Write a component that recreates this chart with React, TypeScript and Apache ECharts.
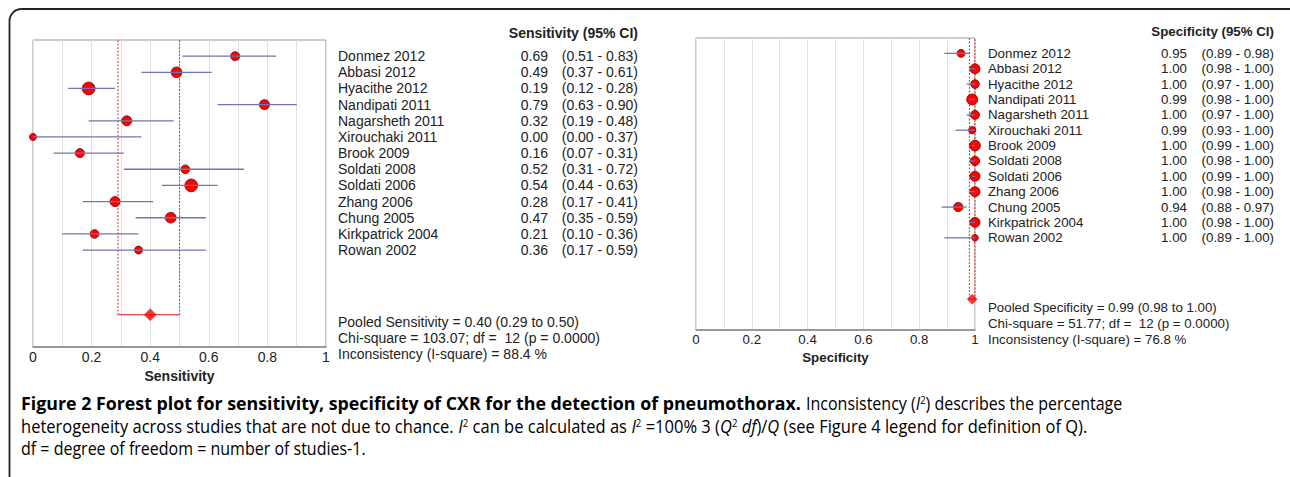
import React, { useEffect, useRef } from "react";
import * as echarts from "echarts";

const studies = [
  "Donmez 2012", "Abbasi 2012", "Hyacithe 2012", "Nandipati 2011", "Nagarsheth 2011",
  "Xirouchaki 2011", "Brook 2009", "Soldati 2008", "Soldati 2006", "Zhang 2006",
  "Chung 2005", "Kirkpatrick 2004", "Rowan 2002",
];
const sensEst = [0.69, 0.49, 0.19, 0.79, 0.32, 0.0, 0.16, 0.52, 0.54, 0.28, 0.47, 0.21, 0.36];
const sensLo = [0.51, 0.37, 0.12, 0.63, 0.19, 0.0, 0.07, 0.31, 0.44, 0.17, 0.35, 0.1, 0.17];
const sensHi = [0.83, 0.61, 0.28, 0.9, 0.48, 0.37, 0.31, 0.72, 0.63, 0.41, 0.59, 0.36, 0.59];
const sensWeight = [9, 10.7, 12.7, 10, 10, 7, 9, 8.7, 12.7, 10, 10.7, 8.7, 8];
const sensPooled = [0.4, 0.29, 0.5];
const sensStats = [
  "Pooled Sensitivity = 0.40 (0.29 to 0.50)",
  "Chi-square = 103.07; df =  12 (p = 0.0000)",
  "Inconsistency (I-square) = 88.4 %",
];

const specEst = [0.95, 1.0, 1.0, 0.99, 1.0, 0.99, 1.0, 1.0, 1.0, 1.0, 0.94, 1.0, 1.0];
const specLo = [0.89, 0.98, 0.97, 0.98, 0.97, 0.93, 0.99, 0.98, 0.99, 0.98, 0.88, 0.98, 0.89];
const specHi = [0.98, 1.0, 1.0, 1.0, 1.0, 1.0, 1.0, 1.0, 1.0, 1.0, 0.97, 1.0, 1.0];
const specWeight = [8, 10, 8.7, 11, 9, 7.3, 10.7, 9.3, 10, 10, 9.3, 10, 6.7];
const specPooled = [0.99, 0.98, 1.0];
const specStats = [
  "Pooled Specificity = 0.99 (0.98 to 1.00)",
  "Chi-square = 51.77; df =  12 (p = 0.0000)",
  "Inconsistency (I-square) = 76.8 %",
];

const xTicks = [0, 0.2, 0.4, 0.6, 0.8, 1];
const pooledRow = 16;
const rowMin = -1;
const rowMax = 18;

const capTitle = "Figure 2 Forest plot for sensitivity, specificity of CXR for the detection of pneumothorax.";
const capLine1: [string, string][] = [
  ["r", "Inconsistency ("], ["i", "I"], ["s", "2"], ["r", ") describes the percentage"],
];
const capLine2: [string, string][] = [
  ["r", "heterogeneity across studies that are not due to chance. "], ["i", "I"], ["s", "2"],
  ["r", " can be calculated as "], ["i", "I"], ["s", "2"], ["r", " =100% 3 ("], ["i", "Q"], ["s", "2"],
  ["i", " df"], ["r", ")/"], ["i", "Q"], ["r", " (see Figure 4 legend for definition of Q)."],
];
const capLine3: [string, string][] = [["r", "df = degree of freedom = number of studies-1."]];

const FONT = "'Liberation Sans', Arial, sans-serif";
const CAP_FONT = "'Open Sans', sans-serif";

const grids = [
  { left: 33, top: 40, width: 293, height: 307 },
  { left: 696, top: 38, width: 279, height: 292 },
];
const fontSizes = [14, 13.3];

function rowY(g: { top: number; height: number }, i: number) {
  return g.top + ((i - rowMin) / (rowMax - rowMin)) * g.height;
}

const fmt = (v: number) => v.toFixed(2);

function ciSeries(idx: number, lo: number[], hi: number[]) {
  return {
    type: "custom",
    xAxisIndex: idx,
    yAxisIndex: idx,
    clip: true,
    z: 5,
    data: lo.map((l, i) => [l, hi[i], i]),
    encode: { x: [0, 1], y: 2 },
    renderItem: (params: any, api: any) => {
      const a = api.coord([api.value(0), api.value(2)]);
      const b = api.coord([api.value(1), api.value(2)]);
      return {
        type: "line",
        shape: { x1: a[0], y1: a[1], x2: b[0], y2: b[1] },
        style: { stroke: "#7474b0", lineWidth: 1.3 },
      };
    },
  };
}

function pooledLines(idx: number, pooled: number[]) {
  return {
    type: "custom",
    xAxisIndex: idx,
    yAxisIndex: idx,
    clip: false,
    z: 2,
    itemStyle: { color: "#f03a3a" },
    data: [[pooled[1], pooled[2], pooledRow]],
    encode: { x: [0, 1], y: 2 },
    renderItem: (params: any, api: any) => {
      const lo = api.value(0);
      const hi = api.value(1);
      const row = api.value(2);
      const p1 = api.coord([lo, rowMin]);
      const p2 = api.coord([lo, row]);
      const p3 = api.coord([hi, row]);
      const p4 = api.coord([hi, rowMin]);
      return {
        type: "group",
        children: [
          {
            type: "polyline",
            shape: { points: [p1, p2, p3, p4] },
            style: { stroke: "#f03a3a", fill: null, lineWidth: 1.1, lineDash: [2, 1.5] },
          },
          {
            type: "polyline",
            shape: { points: [p2, p3] },
            style: { stroke: "#e8383d", fill: null, lineWidth: 1 },
          },
        ],
      };
    },
  };
}

function pointSeries(idx: number, est: number[], w: number[]) {
  return {
    type: "scatter",
    xAxisIndex: idx,
    yAxisIndex: idx,
    clip: false,
    z: 3,
    data: est.map((v, i) => [v, i, w[i]]),
    symbolSize: (d: number[]) => d[2],
    itemStyle: { color: "#ff0000", borderColor: "#7a0000", borderWidth: 0.8, opacity: 1 },
  };
}

function diamondSeries(idx: number, pooled: number[], size: number) {
  return {
    type: "scatter",
    xAxisIndex: idx,
    yAxisIndex: idx,
    clip: false,
    z: 4,
    symbol: "diamond",
    symbolSize: [size, size],
    data: [[pooled[0], pooledRow]],
    itemStyle: { color: "#ff0000", borderColor: "#cc0000", borderWidth: 0.5 },
  };
}

function xAxis(idx: number, name: string, nameGap: number) {
  return {
    type: "value",
    gridIndex: idx,
    min: 0,
    max: 1,
    interval: 0.1,
    name,
    nameLocation: "middle",
    nameGap,
    nameTextStyle: { fontFamily: FONT, fontSize: fontSizes[idx], fontWeight: "bold", color: "#222" },
    axisLine: { show: true, onZero: false, lineStyle: { color: "#888", width: 1.5 } },
    axisTick: { show: false },
    axisLabel: {
      fontFamily: FONT,
      fontSize: fontSizes[idx],
      color: "#222",
      margin: 3,
      showMinLabel: true,
      showMaxLabel: true,
      formatter: (v: number) => {
        const r = Math.round(v * 10) / 10;
        return xTicks.some((t) => Math.abs(t - r) < 1e-6) ? String(r) : "";
      },
    },
    splitLine: { show: true, lineStyle: { color: "#e2e2e2", width: 1 } },
  };
}

function yAxis(idx: number) {
  return {
    type: "value",
    gridIndex: idx,
    min: rowMin,
    max: rowMax,
    inverse: true,
    show: false,
    axisLine: { show: false, onZero: false },
    splitLine: { show: false },
  };
}

function textBlock(
  idx: number,
  nameX: number,
  valX: number,
  ciRight: number,
  header: string,
  headerY: number,
  est: number[],
  lo: number[],
  hi: number[],
  stats: string[],
  statsY: number,
  statsGap: number
) {
  const g = grids[idx];
  const els: any[] = [];
  const base = { fontFamily: FONT, fontSize: fontSizes[idx], fill: "#222" };
  els.push({
    type: "text",
    x: ciRight,
    y: headerY,
    style: { ...base, text: header, fontWeight: "bold", align: "right", verticalAlign: "middle" },
  });
  studies.forEach((s, i) => {
    const y = rowY(g, i);
    els.push({ type: "text", x: nameX, y, style: { ...base, text: s, align: "left", verticalAlign: "middle" } });
    els.push({ type: "text", x: valX, y, style: { ...base, text: fmt(est[i]), align: "right", verticalAlign: "middle" } });
    els.push({
      type: "text",
      x: ciRight,
      y,
      style: { ...base, text: `(${fmt(lo[i])} - ${fmt(hi[i])})`, align: "right", verticalAlign: "middle" },
    });
  });
  stats.forEach((t, k) => {
    els.push({
      type: "text",
      x: nameX,
      y: statsY + k * statsGap,
      style: { ...base, text: t, align: "left", verticalAlign: "middle" },
    });
  });
  return els;
}

export default function App() {
  const ref = useRef<HTMLDivElement>(null);
  useEffect(() => {
    document.body.style.margin = "0";
    if (!ref.current) return;
    const chart = echarts.init(ref.current, undefined, { renderer: "svg" });

    const CS = 18;
    const capRich: Record<string, any> = {
      b: { fontFamily: CAP_FONT, fontSize: CS, fontWeight: "bold", color: "#1a1a1a" },
      r: { fontFamily: CAP_FONT, fontSize: CS, color: "#3a3a3a" },
      i: { fontFamily: CAP_FONT, fontSize: CS, fontStyle: "italic", color: "#3a3a3a" },
      s: { fontFamily: CAP_FONT, fontSize: 10.5, color: "#3a3a3a", verticalAlign: "top" },
    };
    const ctx = document.createElement("canvas").getContext("2d") as CanvasRenderingContext2D;
    const measure = (frags: [string, string][]) => {
      let w = 0;
      frags.forEach(([k, t]) => {
        const st = capRich[k];
        ctx.font = `${st.fontStyle || "normal"} ${st.fontWeight || "normal"} ${st.fontSize}px ${CAP_FONT}`;
        w += ctx.measureText(t).width;
      });
      return w;
    };
    const rich = (frags: [string, string][]) => frags.map(([k, t]) => `{${k}|${t}}`).join("");
    const titleFr: [string, string][] = [["b", capTitle]];
    const sTitle = 780 / measure(titleFr);
    const sL2 = 1066 / measure(capLine2);
    const sReg = sL2 * 0.97;
    const l1w = measure(capLine1) * sReg;
    const l1x = Math.max(21 + 780 + 5, 1100 - l1w);

    const capEl = (frags: [string, string][], x: number, y: number, sx: number) => ({
      type: "text",
      x,
      y,
      scaleX: sx,
      style: { text: rich(frags), rich: capRich, verticalAlign: "middle", align: "left", fontFamily: CAP_FONT, fontSize: CS },
    });

    const graphic: any[] = [
      {
        type: "rect",
        shape: { x: 9.5, y: 9, width: 1300, height: 500, r: 12 },
        style: { fill: "none", stroke: "#222", lineWidth: 1.8 },
        silent: true,
      },
      ...textBlock(0, 338, 548, 638, "Sensitivity (95% CI)", 33, sensEst, sensLo, sensHi, sensStats, 322, 16),
      ...textBlock(1, 988, 1187, 1274, "Specificity (95% CI)", 31, specEst, specLo, specHi, specStats, 307, 16),
      capEl(titleFr, 21, 403, sTitle),
      capEl(capLine1, l1x, 403, sReg),
      capEl(capLine2, 21, 426, sL2),
      capEl(capLine3, 21, 448, sReg),
    ];

    chart.setOption({
      animation: false,
      backgroundColor: "#ffffff",
      grid: grids.map((g) => ({ ...g, show: true, borderColor: "#999", borderWidth: 1, backgroundColor: "#fff" })),
      xAxis: [xAxis(0, "Sensitivity", 14), xAxis(1, "Specificity", 16)],
      yAxis: [yAxis(0), yAxis(1)],
      series: [
        pooledLines(0, sensPooled),
        pointSeries(0, sensEst, sensWeight),
        ciSeries(0, sensLo, sensHi),
        diamondSeries(0, sensPooled, 12),
        pooledLines(1, specPooled),
        pointSeries(1, specEst, specWeight),
        ciSeries(1, specLo, specHi),
        diamondSeries(1, specPooled, 10),
      ],
      graphic,
    });
    return () => chart.dispose();
  }, []);
  return <div ref={ref} style={{ width: 1290, height: 477 }} />;
}
